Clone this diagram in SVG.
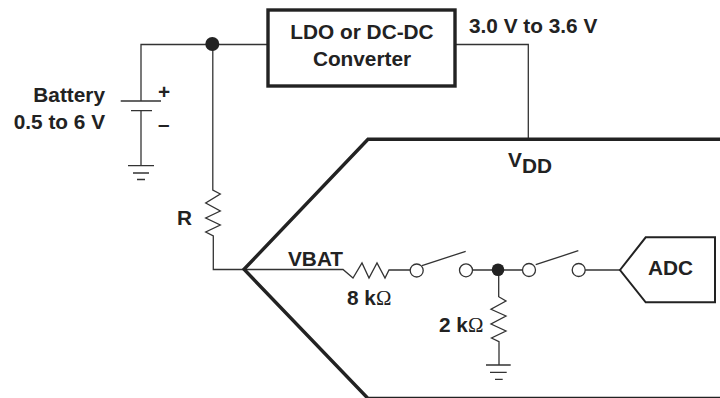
<svg xmlns="http://www.w3.org/2000/svg" width="720" height="398" viewBox="0 0 720 398">
<style>
.w{fill:none;stroke:#333;stroke-width:1.3}
.t{fill:none;stroke:#222;stroke-width:3.4;stroke-linejoin:miter}
.o{fill:#fff;stroke:#333;stroke-width:1.3}
.d{fill:#222;stroke:none}
text{font-family:"Liberation Sans",Arial,sans-serif;font-weight:bold;font-size:20.8px;fill:#222}
</style>
<rect width="720" height="398" fill="#fff"/>
<g id="connectors">
<path class="w" d="M268 44.500H141V101"/>
<path class="w" d="M141 110.500V165.500"/>
<path class="w" d="M212.800 44.500V190L220.300 194L205.700 203L220.300 211L205.700 218L220.300 225L205.700 232L213.300 236V269.500H244"/>
<path class="w" d="M455 44.500H528.300V139"/>
<path class="w" d="M244 269.500H343L353 278L362 263L369 278L377 263L385 278L389 270H410"/>
<path class="w" d="M422 265.700L465.700 251.300"/>
<path class="w" d="M472 270H523"/>
<path class="w" d="M535.700 264.700L578.300 250.700"/>
<path class="w" d="M585 270H620"/>
<path class="w" d="M498.700 270V296.700L506 301L491 309.300L506 316L491 324L506 331L491.500 338L499 341.700V365"/>
<path class="w" d="M120.700 101H161M131 110.700H152"/>
<path class="w" d="M128 165.700H154M133 173H149M137 179.500H145"/>
<path class="w" d="M486 365H510.700M490 372.300H506.700M495 379.300H502.700"/>
</g>
<g id="chip"><path class="t" d="M720 139.300H368L244 269.300L368 398.500H720"/></g>
<g id="converter"><rect x="268" y="10" width="187" height="76" fill="#fff" stroke="#222" stroke-width="3.400"/>
<text x="362" y="39" text-anchor="middle">LDO or DC-DC</text><text x="362" y="66" text-anchor="middle">Converter</text></g>
<g id="junction1"><circle class="d" cx="212.300" cy="44" r="7"/></g>
<g id="junction2"><circle class="d" cx="498" cy="269.700" r="6.300"/></g>
<g id="switch1"><circle class="o" cx="416.700" cy="270.500" r="6.500"/><circle class="o" cx="466" cy="270.300" r="6.500"/></g>
<g id="switch2"><circle class="o" cx="529" cy="270" r="6.500"/><circle class="o" cx="578.700" cy="270" r="6.500"/></g>
<g id="adc"><path fill="#fff" stroke="#222" stroke-width="2" d="M620 270L645.700 237.300H715V302.300H645.700Z"/><text x="670.500" y="275" text-anchor="middle">ADC</text></g>
<g id="labels">
<text x="469" y="33">3.0 V to 3.6 V</text>
<text x="105" y="102" text-anchor="end">Battery</text>
<text x="105" y="129" text-anchor="end">0.5 to 6 V</text>
<text x="158" y="99">+</text><text x="158" y="131">–</text>
<text x="177" y="225">R</text>
<text x="288" y="266">VBAT</text>
<text x="347" y="305">8 k<tspan font-family="Liberation Serif" font-weight="normal">Ω</tspan></text>
<text x="439" y="332">2 k<tspan font-family="Liberation Serif" font-weight="normal">Ω</tspan></text>
<text x="508" y="167">V<tspan dy="6">DD</tspan></text>
</g>
</svg>
